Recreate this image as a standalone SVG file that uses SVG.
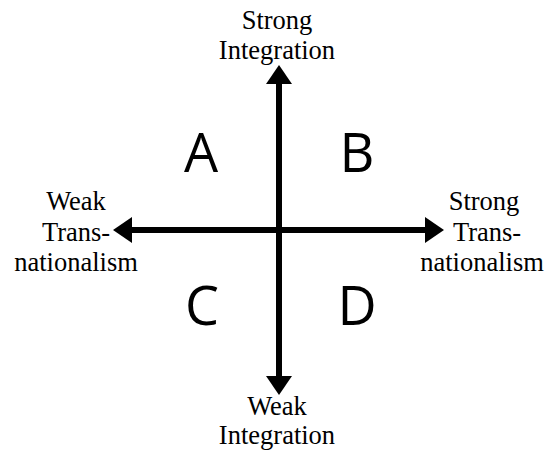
<svg xmlns="http://www.w3.org/2000/svg" width="544" height="452" viewBox="0 0 544 452">
<style>
.lbl{font-family:"Liberation Serif","Times New Roman",serif;font-size:26.5px;fill:#000;text-anchor:middle}
.q{font-family:"Open Sans","Liberation Sans",sans-serif;font-size:54px;fill:#000;text-anchor:middle}
.ax{stroke:#000;stroke-width:6;fill:none}
</style>
<defs>
<marker id="ah" markerUnits="userSpaceOnUse" markerWidth="20" markerHeight="28" refX="0" refY="13" orient="auto" viewBox="0 0 20 26">
<path d="M0,0 L19,13 L0,26 Z" fill="#000"/>
</marker>
</defs>
<rect width="544" height="452" fill="#fff"/>
<g id="connectors">
<line class="ax" x1="279" y1="230" x2="279" y2="84" marker-end="url(#ah)"/>
<line class="ax" x1="279" y1="230" x2="279" y2="376" marker-end="url(#ah)"/>
<line class="ax" x1="279" y1="230" x2="132" y2="230" marker-end="url(#ah)"/>
<line class="ax" x1="279" y1="230" x2="425" y2="230" marker-end="url(#ah)"/>
</g>
<g id="top"><text class="lbl" x="277" y="29">Strong</text><text class="lbl" x="277" y="59">Integration</text></g>
<g id="bottom"><text class="lbl" x="277" y="415">Weak</text><text class="lbl" x="277" y="444">Integration</text></g>
<g id="left"><text class="lbl" x="76" y="210">Weak</text><text class="lbl" x="76" y="241">Trans-</text><text class="lbl" x="76" y="271">nationalism</text></g>
<g id="right"><text class="lbl" x="484" y="210">Strong</text><text class="lbl" x="487" y="241">Trans-</text><text class="lbl" x="482" y="271">nationalism</text></g>
<g id="A"><text class="q" x="201" y="172">A</text></g>
<g id="B"><text class="q" x="357" y="172">B</text></g>
<g id="C"><text class="q" x="202" y="325">C</text></g>
<g id="D"><text class="q" x="357" y="325">D</text></g>
</svg>
